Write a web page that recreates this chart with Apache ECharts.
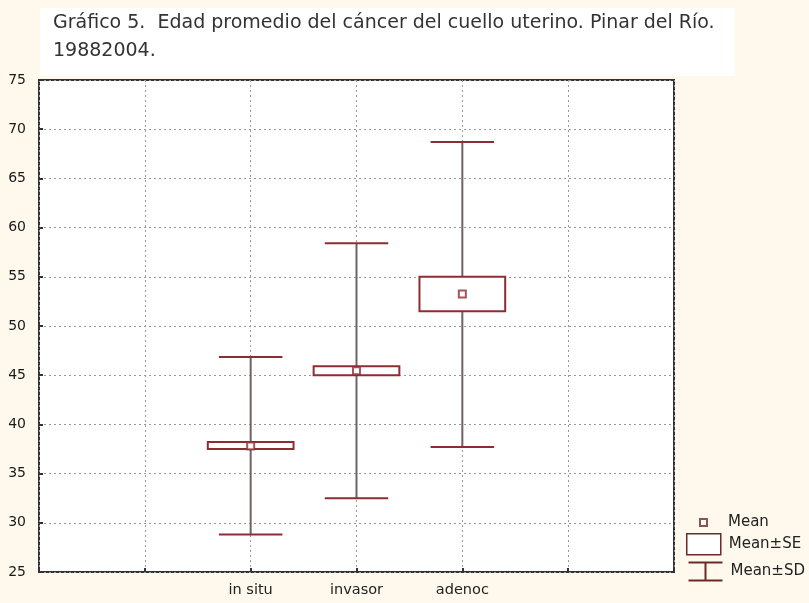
<!DOCTYPE html>
<html>
<head>
<meta charset="utf-8">
<script src="https://cdn.jsdelivr.net/npm/echarts@6/dist/echarts.min.js"></script>
<style>
  html, body { margin: 0; padding: 0; background: #fef9ec; }
  #main { width: 809px; height: 603px; }
</style>
</head>
<body>
<div id="main"></div>
<script>
// categories on the x axis (empty slots give the blank columns)
var categories = ['', '', 'in situ', 'invasor', 'adenoc', '', ''];
var groups = ['in situ', 'invasor', 'adenoc'];
var means = [37.8, 45.45, 53.25];
var seLow = [37.5, 45.0, 51.5];
var seHigh = [38.2, 45.9, 55.0];
var sdLow = [28.8, 32.5, 37.7];
var sdHigh = [46.85, 58.4, 68.7];
var yTicks = [25, 30, 35, 40, 45, 50, 55, 60, 65, 70, 75];

var boxColor = '#8e2c34';
var whiskerColor = '#6f6262';
var legendColor = '#6b2a2a';

var seData = [], sdData = [], meanData = [];
for (var i = 0; i < groups.length; i++) {
    seData.push([groups[i], seLow[i], seHigh[i]]);
    sdData.push([groups[i], sdLow[i], sdHigh[i]]);
    meanData.push([groups[i], means[i]]);
}

var myChart = echarts.init(document.getElementById('main'));
myChart.setOption({
    backgroundColor: '#fef9ec',
    animation: false,
    graphic: [{
        type: 'rect',
        left: 40, top: 8,
        shape: { width: 695, height: 68 },
        style: { fill: '#ffffff' },
        z: -1
    }],
    title: {
        text: 'Gráfico 5.  Edad promedio del cáncer del cuello uterino. Pinar del Río.\n19882004.',
        left: 48, top: 4,
        textStyle: {
            fontFamily: 'DejaVu Sans', fontWeight: 'normal',
            fontSize: 19, color: '#333', lineHeight: 28
        }
    },
    grid: {
        left: 39, right: 135, top: 80, bottom: 31,
        show: true, backgroundColor: '#ffffff',
        borderColor: '#333', borderWidth: 2
    },
    legend: [{
        data: [{ name: 'Mean', icon: 'rect', itemStyle: { color: '#fff', borderColor: legendColor, borderWidth: 2 } }],
        left: 699, top: 515, padding: 0, itemWidth: 7, itemHeight: 7,
        textStyle: { fontFamily: 'DejaVu Sans', fontSize: 15, color: '#222', padding: [0, 0, 0, 16] }
    }, {
        data: [{ name: 'Mean±SE', icon: 'rect', itemStyle: { color: '#fff', borderColor: legendColor, borderWidth: 1.5 } }],
        left: 686, top: 533, padding: 0, itemWidth: 34, itemHeight: 21,
        textStyle: { fontFamily: 'DejaVu Sans', fontSize: 15, color: '#222', padding: [0, 0, 0, 3] }
    }, {
        data: [{ name: 'Mean±SD', icon: 'path://M0,0 H34 M17,0 V18 M0,18 H34', itemStyle: { color: 'none', borderColor: legendColor, borderWidth: 2 } }],
        left: 686, top: 560, padding: 0, itemWidth: 34, itemHeight: 18,
        textStyle: { fontFamily: 'DejaVu Sans', fontSize: 15, color: '#222', padding: [0, 0, 0, 3] }
    }],
    xAxis: {
        type: 'category',
        data: categories,
        boundaryGap: false,
        axisLine: { show: false },
        axisTick: { show: true, inside: true, length: 4, lineStyle: { color: '#333', width: 2 } },
        axisLabel: {
            interval: 0, fontFamily: 'DejaVu Sans', fontSize: 14.5, color: '#222', margin: 11
        },
        splitLine: { show: true, lineStyle: { type: [2, 3], color: '#999', width: 1 } }
    },
    yAxis: {
        type: 'value',
        min: 25, max: 75, interval: 5,
        axisLine: { show: false },
        axisTick: { show: true, inside: true, length: 4, lineStyle: { color: '#333', width: 2 } },
        axisLabel: {
            fontFamily: 'DejaVu Sans', fontSize: 14, color: '#1a1a1a', margin: 13,
            formatter: function (v) { return yTicks.indexOf(v) >= 0 ? String(v) : ''; }
        },
        splitLine: { show: true, lineStyle: { type: [2, 3], color: '#999', width: 1 } }
    },
    series: [{
        name: 'Mean±SD',
        type: 'custom',
        data: sdData,
        encode: { x: 0, y: [1, 2] },
        renderItem: function (params, api) {
            var lo = api.coord([api.value(0), api.value(1)]);
            var hi = api.coord([api.value(0), api.value(2)]);
            var half = api.size([1, 0])[0] * 0.3;
            return {
                type: 'group',
                children: [{
                    type: 'line',
                    shape: { x1: lo[0], y1: lo[1], x2: hi[0], y2: hi[1] },
                    style: { stroke: whiskerColor, lineWidth: 2 }
                }, {
                    type: 'line',
                    shape: { x1: hi[0] - half, y1: hi[1], x2: hi[0] + half, y2: hi[1] },
                    style: { stroke: boxColor, lineWidth: 2 }
                }, {
                    type: 'line',
                    shape: { x1: lo[0] - half, y1: lo[1], x2: lo[0] + half, y2: lo[1] },
                    style: { stroke: boxColor, lineWidth: 2 }
                }]
            };
        },
        z: 2
    }, {
        name: 'Mean±SE',
        type: 'custom',
        data: seData,
        encode: { x: 0, y: [1, 2] },
        renderItem: function (params, api) {
            var lo = api.coord([api.value(0), api.value(1)]);
            var hi = api.coord([api.value(0), api.value(2)]);
            var half = api.size([1, 0])[0] * 0.405;
            return {
                type: 'rect',
                shape: { x: lo[0] - half, y: hi[1], width: half * 2, height: lo[1] - hi[1] },
                style: { fill: '#ffffff', stroke: boxColor, lineWidth: 2 }
            };
        },
        z: 3
    }, {
        name: 'Mean',
        type: 'scatter',
        data: meanData,
        symbol: 'rect',
        symbolSize: 7,
        itemStyle: { color: '#ffffff', borderColor: boxColor, borderWidth: 2 },
        z: 4
    }]
});
</script>
</body>
</html>
